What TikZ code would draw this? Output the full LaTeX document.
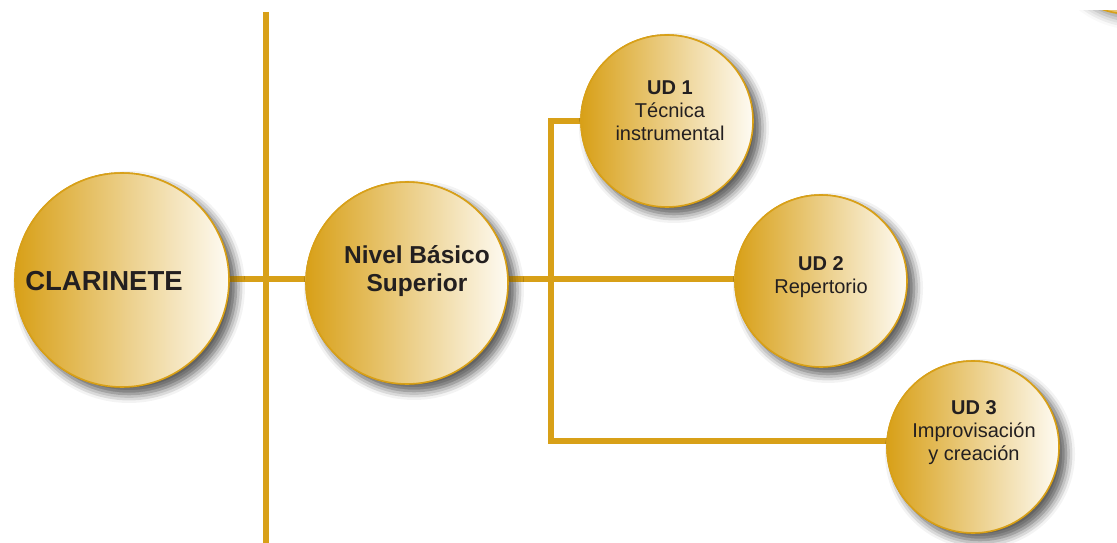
\documentclass[tikz,border=0pt]{standalone}
\usepackage{fontspec}
\setmainfont{Liberation Sans}
\usetikzlibrary{shadows.blur}
\definecolor{gold}{RGB}{216,160,24}
\definecolor{cream}{RGB}{254,251,243}
\definecolor{txt}{RGB}{35,31,32}
\begin{document}
\begin{tikzpicture}[x=1pt,y=-1pt,
  bubble/.style={circle, draw=gold, line width=1.6pt, inner sep=0pt,
    left color=gold, right color=cream,
    blur shadow={shadow xshift=7pt, shadow yshift=-7pt, shadow blur radius=9pt, shadow opacity=40}},
  conn/.style={draw=gold, line width=6pt},
  lbl/.style={text=txt, align=center, inner sep=0pt, font=\fontsize{20}{23}\selectfont},
  big/.style={text=txt, align=center, inner sep=0pt, font=\bfseries\fontsize{24.5}{28}\selectfont}]
\useasboundingbox (0,0) rectangle (1117,543);
% partial circle at the top-right corner
\begin{scope}
\clip (0,11) rectangle (1117,543);
\node[bubble, minimum size=172pt] (corner) at (1130,-72) {};
\end{scope}
% main trunk
\coordinate (ttop) at (266,12);
\coordinate (tbot) at (266,543);
\draw[conn] (ttop) -- (tbot);
% nodes
\node[bubble, minimum size=214pt] (clar) at (122,280) {};
\node[bubble, minimum size=202pt] (nivel) at (407,283) {};
\node[bubble, minimum size=172pt] (ud1) at (667,121) {};
\node[bubble, minimum size=172pt] (ud2) at (821,281) {};
\node[bubble, minimum size=172pt] (ud3) at (973,447) {};
% branch coordinates
\coordinate (b1) at (551,121);
\coordinate (b3) at (551,441);
% connectors
\draw[conn] (clar.east |- 0,279) -- (nivel.west |- 0,279);
\draw[conn] (nivel.east |- 0,279) -- (ud2.west |- 0,279);
\draw[conn, line cap=rect] (ud1.west |- b1) -- (b1) -- (b3) -- (ud3.west |- b3);
% redraw circles over connectors
\node[bubble, minimum size=214pt] at (clar) {};
\node[bubble, minimum size=202pt] at (nivel) {};
\node[bubble, minimum size=172pt] at (ud1) {};
\node[bubble, minimum size=172pt] at (ud2) {};
\node[bubble, minimum size=172pt] at (ud3) {};
% texts
\node[big, font=\bfseries\fontsize{27.5}{30}\selectfont] (clart) at (104,281) {CLARINETE};
\node[big] (nivelt) at (417,271) {Nivel Básico\\Superior};
\node[lbl] (ud1t) at (670,111) {\textbf{UD 1}\\Técnica\\instrumental};
\node[lbl] (ud2t) at (821,277) {\textbf{UD 2}\\Repertorio};
\node[lbl] (ud3t) at (974,433) {\textbf{UD 3}\\Improvisación\\y creación};
\end{tikzpicture}
\end{document}
